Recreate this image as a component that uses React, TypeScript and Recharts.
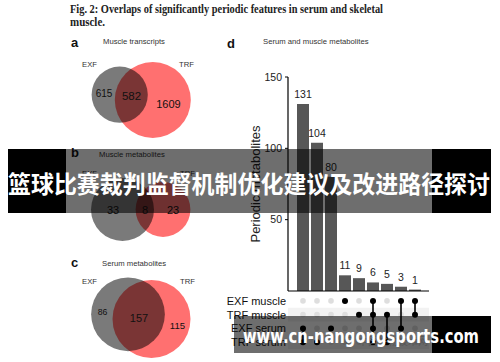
import React from 'react';
import {
  BarChart,
  Bar,
  XAxis,
  YAxis,
  LabelList,
  Label,
  ScatterChart,
  Scatter,
  ZAxis,
  ReferenceArea,
} from 'recharts';

// ---------------- data ----------------
const SET_NAMES = ['EXF muscle', 'TRF muscle', 'EXF serum', 'TRF serum'];
const INTERSECTION_IDS = ['i1', 'i2', 'i3', 'i4', 'i5', 'i6', 'i7', 'i8', 'i9'];
const INTERSECTION_SIZES = [131, 104, 80, 11, 9, 6, 5, 3, 1];
// 1-based row indices into SET_NAMES
const INTERSECTION_MEMBERS = [[3, 4], [4], [3], [1], [2], [1, 2, 3, 4], [2, 4], [1, 3], [1, 2]];
const Y_TICKS = [0, 50, 100, 150];

const VENN_TITLES = ['Muscle transcripts', 'Muscle metabolites', 'Serum metabolites'];
const VENN_SET_LABELS = ['EXF', 'TRF'];
const EXF_ONLY = [615, 33, 86];
const SHARED = [582, 8, 157];
const TRF_ONLY = [1609, 23, 115];

// ---------------- layout (positions / sizes) ----------------
const FONT = '"Liberation Sans", Arial, Helvetica, sans-serif';
const VENN_W = 150;
const VENN_H = 100;
const VENN_LAYOUT = [
  {
    top: 50,
    maxR: 38,
    exf: [59.7, 44.7],
    trf: [92.8, 50],
    labelPos: [[44, 43], [71.5, 46], [108.5, 54]],
    labelSize: [10, 11.5, 11],
  },
  {
    top: 160,
    maxR: 31.5,
    exf: [62.5, 49.5],
    trf: [103, 49.5],
    labelPos: [[53, 50], [85, 50], [113, 50]],
    labelSize: [11, 11, 11],
  },
  {
    top: 262,
    maxR: 39,
    exf: [68, 52.3],
    trf: [91.5, 57],
    labelPos: [[42.5, 50], [79, 56], [117.5, 63]],
    labelSize: [8.7, 11, 9.6],
  },
];

const CircleShape = (props: any) => {
  const r = props.size ? Math.sqrt(props.size / Math.PI) : (props.width || 0) / 2;
  return <circle cx={props.cx} cy={props.cy} r={r} fill={props.fill} />;
};

const TextShape = (props: any) => (
  <text
    x={props.cx}
    y={props.cy}
    textAnchor="middle"
    dominantBaseline="central"
    fontSize={props.payload.fs}
    fill="#111"
    fontFamily={FONT}
  >
    {props.payload.value}
  </text>
);

function Venn({ i }: { i: number }) {
  const L = VENN_LAYOUT[i];
  const exfTotal = EXF_ONLY[i] + SHARED[i];
  const trfTotal = TRF_ONLY[i] + SHARED[i];
  const maxTotal = Math.max(exfTotal, trfTotal);
  const trfPoint = [{ x: L.trf[0], y: L.trf[1], z: trfTotal }];
  const exfPoint = [{ x: L.exf[0], y: L.exf[1], z: exfTotal }];
  const values = [EXF_ONLY[i], SHARED[i], TRF_ONLY[i]];
  const labels = values.map((v, k) => ({
    x: L.labelPos[k][0],
    y: L.labelPos[k][1],
    value: v,
    fs: L.labelSize[k],
  }));
  return (
    <div style={{ position: 'absolute', left: 60, top: L.top, width: VENN_W, height: VENN_H }}>
      <ScatterChart width={VENN_W} height={VENN_H} margin={{ top: 0, right: 0, bottom: 0, left: 0 }}>
        <XAxis type="number" dataKey="x" domain={[0, VENN_W]} hide />
        <YAxis type="number" dataKey="y" domain={[0, VENN_H]} reversed hide />
        <ZAxis type="number" dataKey="z" domain={[0, maxTotal]} range={[0, Math.PI * L.maxR * L.maxR]} />
        <Scatter data={trfPoint} fill="rgb(255,112,112)" shape={CircleShape} isAnimationActive={false} />
        <Scatter data={exfPoint} fill="rgba(0,0,0,0.52)" shape={CircleShape} isAnimationActive={false} />
        <Scatter data={labels} shape={TextShape} isAnimationActive={false} />
      </ScatterChart>
    </div>
  );
}

const barData = INTERSECTION_SIZES.map((v, i) => ({ id: INTERSECTION_IDS[i], value: v }));

const matrixCells = INTERSECTION_SIZES.flatMap((_, c) =>
  SET_NAMES.map((__, r) => ({ col: c, row: r + 1, on: INTERSECTION_MEMBERS[c].includes(r + 1) }))
);
const inactiveCells = matrixCells.filter((d) => !d.on);
const columnCells = INTERSECTION_MEMBERS.map((m, c) => m.map((r) => ({ col: c, row: r })));

const DotShape = (props: any) => <circle cx={props.cx} cy={props.cy} r={props.rad} fill={props.fill} />;

const RowTick = (props: any) => (
  <text
    x={props.x}
    y={props.y}
    textAnchor="end"
    dominantBaseline="central"
    fontSize={11}
    fill="#111"
    fontFamily={FONT}
  >
    {SET_NAMES[props.payload.value - 1]}
  </text>
);

const YLabel = (props: any) => {
  const vb = props.viewBox || {};
  const cx = vb.x + 25;
  const cy = vb.y + vb.height / 2;
  return (
    <text
      x={cx}
      y={cy}
      transform={`rotate(-90 ${cx} ${cy})`}
      textAnchor="middle"
      dominantBaseline="central"
      fontSize={13}
      fill="#222"
      fontFamily={FONT}
    >
      Periodic metabolites
    </text>
  );
};

function UpSet() {
  return (
    <>
      <div style={{ position: 'absolute', left: 230, top: 60, width: 205, height: 232 }}>
        <BarChart
          width={205}
          height={232}
          data={barData}
          margin={{ top: 17, right: 6, bottom: 0, left: 0 }}
        >
          <XAxis
            dataKey="id"
            tick={false}
            tickLine={false}
            axisLine={{ stroke: '#000', strokeWidth: 1.2 }}
            height={1}
            padding={{ left: 8, right: 7 }}
          />
          <YAxis
            type="number"
            domain={[0, 150]}
            ticks={Y_TICKS}
            width={58}
            tickSize={3}
            tickMargin={3}
            axisLine={{ stroke: '#000', strokeWidth: 1.2 }}
            tickLine={{ stroke: '#000' }}
            tick={{ fontSize: 10.5, fill: '#222', fontFamily: FONT }}
          >
            <Label content={YLabel} />
          </YAxis>
          <Bar dataKey="value" fill="#575757" barSize={12} isAnimationActive={false}>
            <LabelList dataKey="value" position="top" offset={6} fontSize={10.5} fill="#222" fontFamily={FONT} />
          </Bar>
        </BarChart>
      </div>
      <div style={{ position: 'absolute', left: 215, top: 294, width: 220, height: 55 }}>
        <ScatterChart width={220} height={55} margin={{ top: 0, right: 6, bottom: 0, left: 0 }}>
          <XAxis type="number" dataKey="col" domain={[-0.5, 8.5]} padding={{ left: 8, right: 7 }} hide />
          <YAxis
            type="number"
            dataKey="row"
            domain={[0.5, 4.5]}
            reversed
            ticks={[1, 2, 3, 4]}
            interval={0}
            width={73}
            axisLine={false}
            tickLine={false}
            tickSize={0}
            tickMargin={2}
            tick={RowTick}
          />
          <ReferenceArea x1={-1.07} x2={9} y1={1.5} y2={2.5} fill="#f2f2f2" fillOpacity={1} stroke="none" ifOverflow="visible" />
          <ReferenceArea x1={-1.07} x2={9} y1={3.5} y2={4.5} fill="#f2f2f2" fillOpacity={1} stroke="none" ifOverflow="visible" />
          <Scatter
            data={inactiveCells}
            fill="#dedede"
            shape={(p: any) => <DotShape {...p} rad={2.8} />}
            isAnimationActive={false}
          />
          {columnCells.map((pts, c) => (
            <Scatter
              key={c}
              data={pts}
              fill="#000"
              line={{ stroke: '#000', strokeWidth: 1.6 }}
              shape={(p: any) => <DotShape {...p} rad={3} />}
              isAnimationActive={false}
            />
          ))}
        </ScatterChart>
      </div>
    </>
  );
}

const smallText = { fontFamily: FONT, fontSize: 7.7, fill: '#333' } as const;
const panelText = { fontFamily: FONT, fontSize: 13, fontWeight: 700, fill: '#111' } as const;

export default function App() {
  return (
    <div
      style={{
        position: 'absolute',
        left: 0,
        top: 0,
        width: 500,
        height: 362,
        background: '#fff',
        overflow: 'hidden',
        fontFamily: FONT,
      }}
    >
      {/* texts */}
      <svg width={500} height={362} style={{ position: 'absolute', left: 0, top: 0 }}>
        <text
          x={70}
          y={12.5}
          textLength={313}
          lengthAdjust="spacingAndGlyphs"
          fontFamily='"Liberation Serif", "DejaVu Serif", serif'
          fontWeight={700}
          fontSize={11.5}
          fill="#222"
        >
          Fig. 2: Overlaps of significantly periodic features in serum and skeletal
        </text>
        <text
          x={70}
          y={26}
          textLength={35}
          lengthAdjust="spacingAndGlyphs"
          fontFamily='"Liberation Serif", "DejaVu Serif", serif'
          fontWeight={700}
          fontSize={11.5}
          fill="#222"
        >
          muscle.
        </text>
        <text x={71} y={47} style={panelText}>a</text>
        <text x={71} y={157} style={panelText}>b</text>
        <text x={71} y={267} style={panelText}>c</text>
        <text x={227} y={48} style={panelText}>d</text>
        <text x={103} y={44} style={smallText}>{VENN_TITLES[0]}</text>
        <text x={99} y={157} style={smallText}>{VENN_TITLES[1]}</text>
        <text x={102} y={266} style={smallText}>{VENN_TITLES[2]}</text>
        <text x={263} y={44} style={smallText}>Serum and muscle metabolites</text>
        <text x={82} y={67} style={smallText}>{VENN_SET_LABELS[0]}</text>
        <text x={179} y={67} style={smallText}>{VENN_SET_LABELS[1]}</text>
        <text x={82} y={176} style={smallText}>{VENN_SET_LABELS[0]}</text>
        <text x={180} y={176} style={smallText}>{VENN_SET_LABELS[1]}</text>
        <text x={82} y={284} style={smallText}>{VENN_SET_LABELS[0]}</text>
        <text x={180} y={284} style={smallText}>{VENN_SET_LABELS[1]}</text>
      </svg>

      {[0, 1, 2].map((i) => (
        <Venn key={i} i={i} />
      ))}
      <UpSet />

      {/* overlays */}
      <svg width={500} height={362} style={{ position: 'absolute', left: 0, top: 0 }}>
        <circle cx={350} cy={341} r={4} fill="none" stroke="#c8c8c8" strokeWidth={1} />
        <text x={358} y={345} fontSize={10} fill="#c8c8c8" fontFamily='"Noto Sans CJK SC", sans-serif'>
          中国生物技术网
        </text>
        <rect x={8} y={149} width={58} height={64} fill="#000" />
        <rect x={66} y={149} width={366} height={64} fill="rgba(0,0,0,0.57)" />
        <rect x={432} y={149} width={59} height={64} fill="#000" />
        <text
          x={8}
          y={193}
          textLength={482}
          lengthAdjust="spacingAndGlyphs"
          fontSize={24}
          fontWeight={700}
          fill="#fff"
          fontFamily='"Noto Sans CJK SC", sans-serif'
        >
          篮球比赛裁判监督机制优化建议及改进路径探讨
        </text>
        <rect x={234} y={316} width={198} height={37} fill="rgba(0,0,0,0.57)" />
        <rect x={432} y={316} width={59} height={37} fill="#000" />
        <text
          x={243}
          y={343}
          textLength={236}
          lengthAdjust="spacingAndGlyphs"
          fontSize={20}
          fontWeight={700}
          fill="#fff"
          fontFamily='"DejaVu Sans", sans-serif'
        >
          www.cn-nangongsports.com
        </text>
      </svg>
    </div>
  );
}
